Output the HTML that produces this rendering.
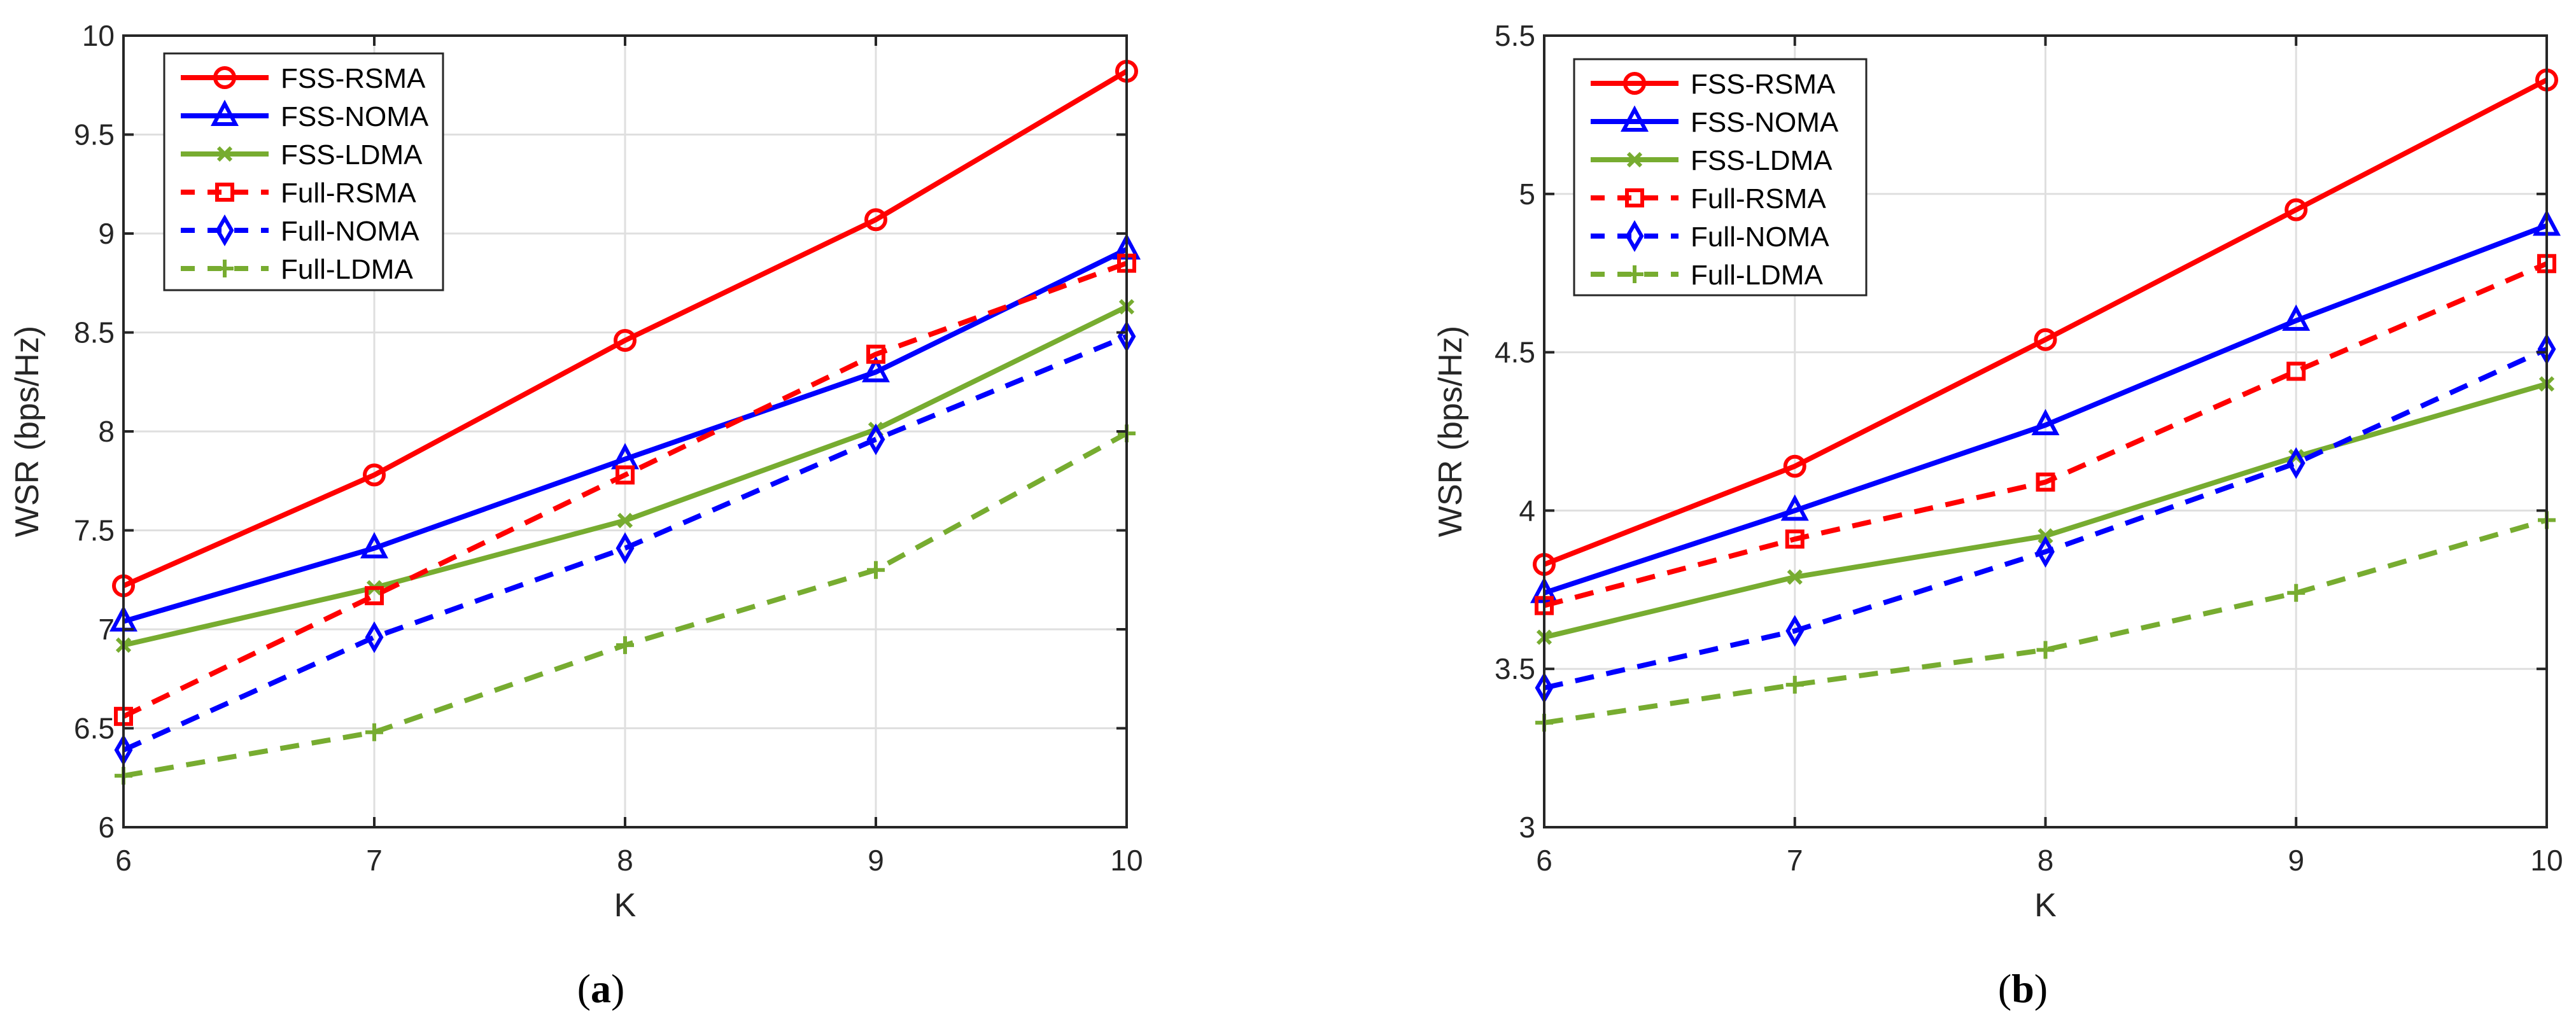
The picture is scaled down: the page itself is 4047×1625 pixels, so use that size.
<!DOCTYPE html>
<html><head><meta charset="utf-8"><style>
html,body{margin:0;padding:0;background:#fff;}
svg{display:block;font-family:"Liberation Sans",sans-serif;}
</style></head><body>
<svg id="fig" width="4047" height="1625" viewBox="0 0 4047 1625" xmlns="http://www.w3.org/2000/svg"></svg>
<script>
const categories = [6, 7, 8, 9, 10];
const seriesNames = ["FSS-RSMA","FSS-NOMA","FSS-LDMA","Full-RSMA","Full-NOMA","Full-LDMA"];
const aRSMA = [7.22, 7.78, 8.46, 9.07, 9.82];
const aNOMA = [7.04, 7.41, 7.86, 8.30, 8.92];
const aLDMA = [6.92, 7.21, 7.55, 8.01, 8.63];
const aFullRSMA = [6.56, 7.17, 7.78, 8.39, 8.85];
const aFullNOMA = [6.39, 6.96, 7.41, 7.96, 8.48];
const aFullLDMA = [6.26, 6.48, 6.92, 7.30, 7.99];
const bRSMA = [3.83, 4.14, 4.54, 4.95, 5.36];
const bNOMA = [3.74, 4.00, 4.27, 4.60, 4.90];
const bLDMA = [3.60, 3.79, 3.92, 4.17, 4.40];
const bFullRSMA = [3.70, 3.91, 4.09, 4.44, 4.78];
const bFullNOMA = [3.44, 3.62, 3.87, 4.15, 4.51];
const bFullLDMA = [3.33, 3.45, 3.56, 3.74, 3.97];
const aYTicks = ["6","6.5","7","7.5","8","8.5","9","9.5","10"];
const bYTicks = ["3","3.5","4","4.5","5","5.5"];

const NS = "http://www.w3.org/2000/svg";
const svg = document.getElementById("fig");
function mk(tag, attrs, parent){ const e=document.createElementNS(NS,tag); for(const k in attrs) e.setAttribute(k,attrs[k]); (parent||svg).appendChild(e); return e; }

const styles = [
 {color:"#ff0000", dash:null, marker:"circle"},
 {color:"#0000ff", dash:null, marker:"triangle"},
 {color:"#77ac30", dash:null, marker:"x"},
 {color:"#ff0000", dash:"30 20", marker:"square"},
 {color:"#0000ff", dash:"30 20", marker:"diamond"},
 {color:"#77ac30", dash:"30 20", marker:"plus"}
];

function drawMarker(g, type, x, y, color){
  const r = 15, sw = 6;
  let e;
  if(type==="circle") e = mk("circle",{cx:x,cy:y,r:r,fill:"none",stroke:color,"stroke-width":sw},g);
  else if(type==="triangle") e = mk("polygon",{points:`${x},${y-r-4} ${x-r-2},${y+r-2} ${x+r+2},${y+r-2}`,fill:"none",stroke:color,"stroke-width":sw},g);
  else if(type==="square") e = mk("rect",{x:x-r+3,y:y-r+3,width:2*r-6,height:2*r-6,fill:"none",stroke:color,"stroke-width":sw},g);
  else if(type==="diamond") e = mk("polygon",{points:`${x},${y-r-4} ${x+r-4},${y} ${x},${y+r+4} ${x-r+4},${y}`,fill:"none",stroke:color,"stroke-width":sw},g);
  else if(type==="x") e = mk("path",{d:`M${x-10},${y-10}L${x+10},${y+10}M${x-10},${y+10}L${x+10},${y-10}`,stroke:color,"stroke-width":sw,fill:"none"},g);
  else e = mk("path",{d:`M${x-14},${y}L${x+14},${y}M${x},${y-14}L${x},${y+14}`,stroke:color,"stroke-width":sw,fill:"none"},g);
  
  
}

function drawPanel(id, L, R, T, B, ymin, ymax, yticks, data, legend, ylabelX, caption, capX){
  const g = mk("g",{});
  
  
  const xs = v => L + (v - categories[0])/(categories[categories.length-1]-categories[0])*(R-L);
  const ys = v => B - (v - ymin)/(ymax-ymin)*(B-T);
  // grid
  categories.forEach(c=>{ const l=mk("line",{x1:xs(c),x2:xs(c),y1:T,y2:B,stroke:"#dfdfdf","stroke-width":3},g);
      });
  yticks.forEach(t=>{ const v=parseFloat(t); const l=mk("line",{x1:L,x2:R,y1:ys(v),y2:ys(v),stroke:"#dfdfdf","stroke-width":3},g);
      });
  // series
  data.forEach((arr,i)=>{
    const st = styles[i];
    const sg = mk("g",{},g);
    
    
    const pts = arr.map((v,j)=>xs(categories[j])+","+ys(v)).join(" ");
    const pl = mk("polyline",{points:pts,fill:"none",stroke:st.color,"stroke-width":8,"stroke-linejoin":"round"},sg);
    if(st.dash) pl.setAttribute("stroke-dasharray",st.dash);
    
    
    arr.forEach((v,j)=>drawMarker(sg, st.marker, xs(categories[j]), ys(v), st.color));
  });
  // axes box
  const box = mk("rect",{x:L,y:T,width:R-L,height:B-T,fill:"none",stroke:"#262626","stroke-width":4},g);
   
  // ticks
  categories.forEach(c=>{
    mk("line",{x1:xs(c),x2:xs(c),y1:B,y2:B-16,stroke:"#262626","stroke-width":4},g);
    mk("line",{x1:xs(c),x2:xs(c),y1:T,y2:T+16,stroke:"#262626","stroke-width":4},g);
    const t = mk("text",{x:xs(c),y:B+68,"text-anchor":"middle","font-size":46,fill:"#262626"},g);
    t.textContent = c;
     
  });
  yticks.forEach(tk=>{
    const v=parseFloat(tk);
    mk("line",{x1:L,x2:L+16,y1:ys(v),y2:ys(v),stroke:"#262626","stroke-width":4},g);
    mk("line",{x1:R,x2:R-16,y1:ys(v),y2:ys(v),stroke:"#262626","stroke-width":4},g);
    const t = mk("text",{x:L-14,y:ys(v)+16,"text-anchor":"end","font-size":46,fill:"#262626"},g);
    t.textContent = tk;
     
  });
  const xl = mk("text",{x:(L+R)/2,y:B+140,"text-anchor":"middle","font-size":52,fill:"#262626"},g);
  xl.textContent="K";  
  const yl = mk("text",{x:ylabelX,y:(T+B)/2,"text-anchor":"middle","font-size":52,fill:"#262626",transform:`rotate(-90 ${ylabelX} ${(T+B)/2})`},g);
  yl.textContent="WSR (bps/Hz)";  
  // legend
  const lg = mk("g",{},g);
   
  mk("rect",{x:legend.x,y:legend.y,width:legend.w,height:legend.h,fill:"#fff",stroke:"#262626","stroke-width":3},lg);
  seriesNames.forEach((n,i)=>{
    const st=styles[i]; const y=legend.y+38+i*60;
    const eg = mk("g",{},lg);
     
    const ln = mk("line",{x1:legend.x+26,x2:legend.x+164,y1:y,y2:y,stroke:st.color,"stroke-width":8},eg);
    if(st.dash) ln.setAttribute("stroke-dasharray","22 20");
    drawMarker(eg, st.marker, legend.x+95, y, st.color);
    const t = mk("text",{x:legend.x+183,y:y+16,"font-size":44,fill:"#000"},eg);
    t.textContent=n;
  });
  const cap = mk("text",{x:capX,y:1575,"text-anchor":"middle","font-size":64,"font-family":"Liberation Serif, serif",fill:"#000"},g);
  cap.innerHTML = '(<tspan font-weight="bold">'+caption+'</tspan>)';
   
}

drawPanel("a",194,1770,56,1300,6,10,aYTicks,[aRSMA,aNOMA,aLDMA,aFullRSMA,aFullNOMA,aFullLDMA],
  {x:258,y:84,w:438,h:372},60,"a",944);
drawPanel("b",2426,4001,56,1300,3,5.5,bYTicks,[bRSMA,bNOMA,bLDMA,bFullRSMA,bFullNOMA,bFullLDMA],
  {x:2473,y:93,w:459,h:371},2296,"b",3178);
</script>
</body></html>
